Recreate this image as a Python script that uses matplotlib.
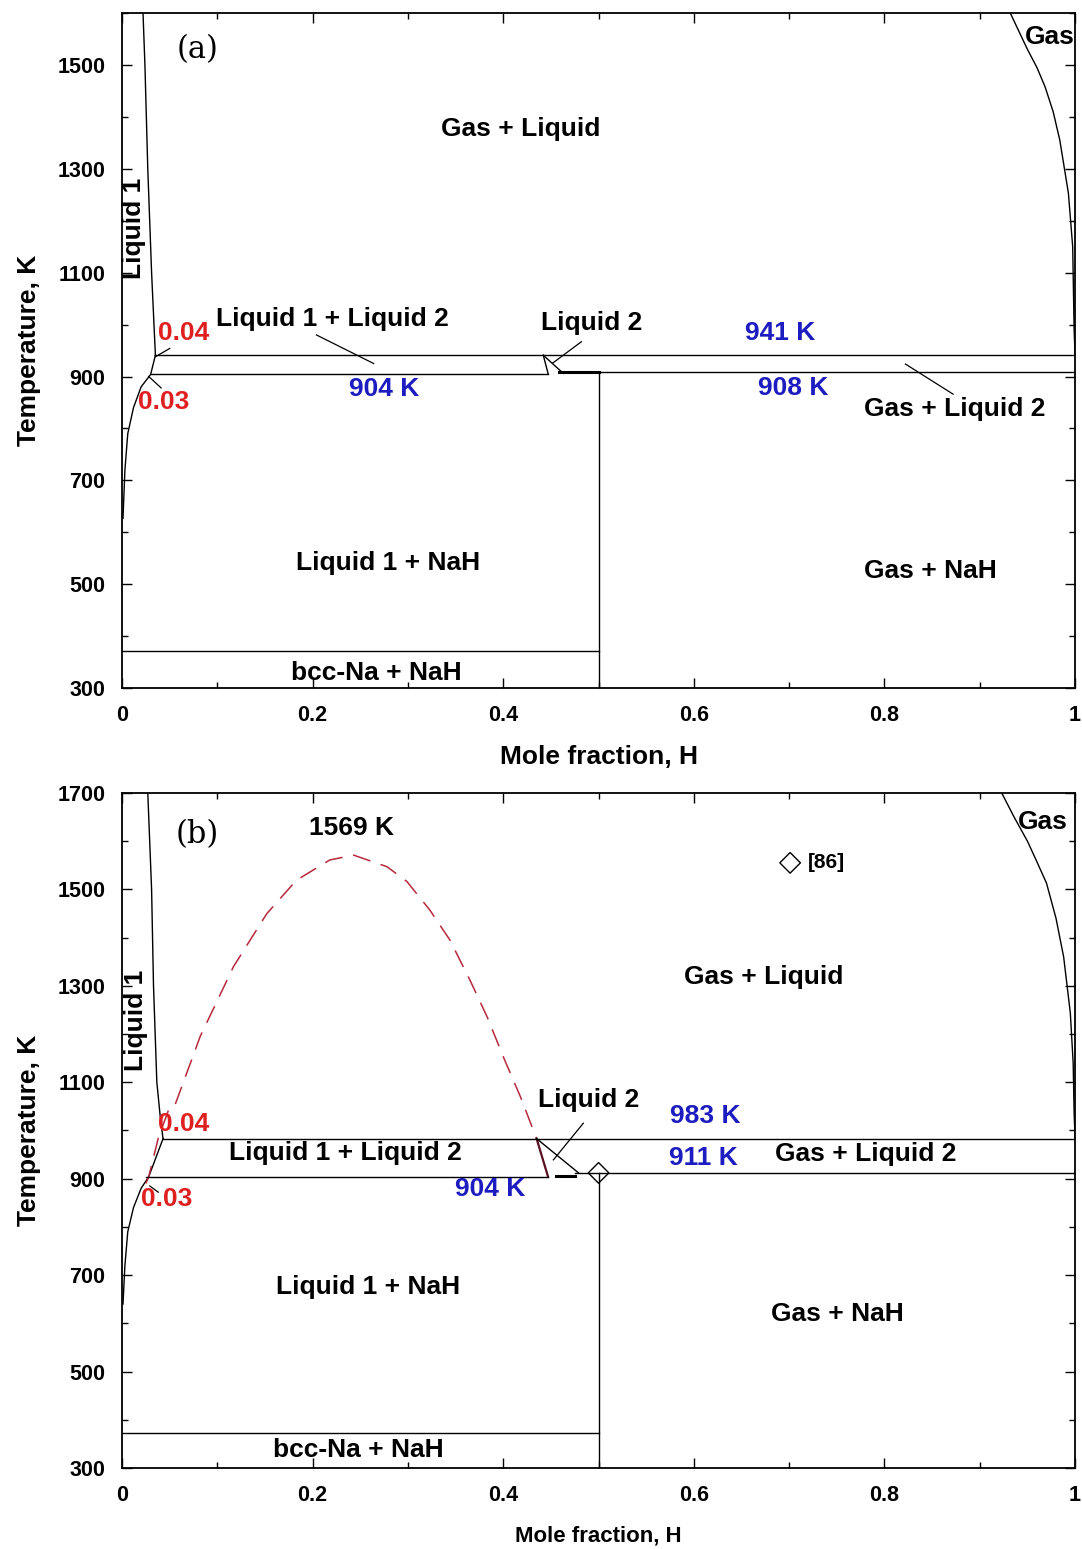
import numpy as np
import matplotlib.pyplot as plt
from matplotlib.ticker import MultipleLocator

# ---- panel (a) data ----
liq1_top_a_x = [0.022, 0.024, 0.027, 0.031, 0.035]
liq1_top_a_T = [1600, 1500, 1300, 1100, 941]
liq1_low_a_x = [0.035, 0.030, 0.020, 0.012, 0.006, 0.003, 0.001]
liq1_low_a_T = [941, 904, 880, 840, 790, 720, 627]
gas_a_x = [0.932, 0.941, 0.950, 0.960, 0.9685, 0.977, 0.984, 0.993, 0.9975, 0.999, 1.0]
gas_a_T = [1600, 1565, 1530, 1495, 1458, 1410, 1355, 1253, 1150, 990, 941]
T_mono_a = 941
T_eut_a = 904
T_per_a = 908
T_bcc = 372

# ---- panel (b) data ----
liq1_top_b_x = [0.027, 0.029, 0.031, 0.033, 0.0365, 0.040, 0.043]
liq1_top_b_T = [1700, 1600, 1500, 1300, 1100, 1030, 983]
liq1_low_b_x = [0.043, 0.028, 0.020, 0.012, 0.006, 0.003, 0.001]
liq1_low_b_T = [983, 904, 880, 840, 790, 720, 640]
gap_x = [0.025, 0.028, 0.038, 0.050, 0.0556, 0.082, 0.117, 0.152, 0.183, 0.218,
         0.243, 0.278, 0.299, 0.323, 0.344, 0.365, 0.383, 0.400, 0.418, 0.435]
gap_T = [890, 904, 984, 1049, 1053, 1195, 1340, 1450, 1519, 1561,
         1571, 1547, 1516, 1457, 1395, 1312, 1236, 1153, 1070, 983]
gas_b_x = [0.923, 0.936, 0.950, 0.960, 0.970, 0.980, 0.988, 0.995, 0.998, 0.999, 1.0]
gas_b_T = [1700, 1650, 1600, 1557, 1513, 1440, 1360, 1244, 1140, 1036, 983]
T_mono_b = 983
T_eut_b = 904
T_per_b = 911
exp_x = [0.701, 0.5]
exp_T = [1555, 912]

blue = '#1c1cc0'
red = '#e02020'
gap_color = '#b8283c'
lw = 1.0

plt.rcParams['font.family'] = ['Liberation Sans', 'DejaVu Sans']
plt.rcParams['font.weight'] = 'bold'

fig = plt.figure(figsize=(10.82, 15.49), dpi=100)
ax1 = fig.add_axes([0.1128, 0.5558, 0.8808, 0.4358])
ax2 = fig.add_axes([0.1128, 0.0523, 0.8808, 0.4358])


def style_axes(ax, ymax, xlabel_size):
    ax.set_xlim(0, 1)
    ax.set_ylim(300, ymax)
    ax.xaxis.set_minor_locator(MultipleLocator(0.1))
    ax.yaxis.set_minor_locator(MultipleLocator(100))
    ax.set_yticks(np.arange(300, ymax + 1, 200))
    ax.set_xticks([0, 0.2, 0.4, 0.6, 0.8, 1.0])
    ax.set_xticklabels(['0', '0.2', '0.4', '0.6', '0.8', '1'])
    ax.tick_params(which='both', direction='in', top=True, right=True,
                   labelsize=15.5, width=1)
    ax.tick_params(which='major', length=7, pad=12)
    ax.tick_params(which='minor', length=4)
    for lab in ax.get_xticklabels() + ax.get_yticklabels():
        lab.set_fontweight('bold')
    for s in ax.spines.values():
        s.set_linewidth(1.3)
    ax.set_ylabel('Temperature, K', fontsize=19, fontweight='bold', labelpad=12)
    ax.set_xlabel('Mole fraction, H', fontsize=xlabel_size, fontweight='bold', labelpad=14)


# ---------------- panel (a) ----------------
ax1.plot(liq1_top_a_x, liq1_top_a_T, 'k-', lw=lw)
ax1.plot(liq1_low_a_x, liq1_low_a_T, 'k-', lw=lw)
ax1.plot(gas_a_x, gas_a_T, 'k-', lw=lw)
ax1.plot([0.035, 1.0], [T_mono_a, T_mono_a], 'k-', lw=lw)
ax1.plot([0.030, 0.447], [T_eut_a, T_eut_a], 'k-', lw=lw)
ax1.plot([0.458, 0.5], [T_per_a, T_per_a], 'k-', lw=2.2)
ax1.plot([0.5, 1.0], [T_per_a, T_per_a], 'k-', lw=lw)
ax1.plot([0.5, 0.5], [300, T_per_a], 'k-', lw=lw)
ax1.plot([0, 0.5], [T_bcc, T_bcc], 'k-', lw=lw)
ax1.plot([0.442, 0.447], [941, 906], 'k-', lw=lw)
ax1.plot([0.442, 0.463], [941, 906], 'k-', lw=lw)
# leader lines
ax1.plot([0.204, 0.264], [980, 925], 'k-', lw=0.9)
ax1.plot([0.482, 0.452], [967, 926], 'k-', lw=0.9)
ax1.plot([0.822, 0.872], [924, 866], 'k-', lw=0.9)
ax1.plot([0.035, 0.050], [938, 954], 'k-', lw=0.9)
ax1.plot([0.028, 0.041], [900, 878], 'k-', lw=0.9)

fs = 19
ax1.text(0.079, 1529, '(a)', fontsize=22, family='DejaVu Serif', fontweight='normal',
         ha='center', va='center')
ax1.text(0.418, 1377, 'Gas + Liquid', fontsize=fs, ha='center', va='center')
ax1.text(0.0125, 1186, 'Liquid 1', fontsize=fs, rotation=90, ha='center', va='center')
ax1.text(0.221, 1011, 'Liquid 1 + Liquid 2', fontsize=fs, ha='center', va='center')
ax1.text(0.493, 1003, 'Liquid 2', fontsize=fs, ha='center', va='center')
ax1.text(0.690, 984, '941 K', fontsize=fs, color=blue, ha='center', va='center')
ax1.text(0.065, 984, '0.04', fontsize=fs, color=red, ha='center', va='center')
ax1.text(0.044, 851, '0.03', fontsize=fs, color=red, ha='center', va='center')
ax1.text(0.275, 876, '904 K', fontsize=fs, color=blue, ha='center', va='center')
ax1.text(0.704, 878, '908 K', fontsize=fs, color=blue, ha='center', va='center')
ax1.text(0.874, 837, 'Gas + Liquid 2', fontsize=fs, ha='center', va='center')
ax1.text(0.279, 541, 'Liquid 1 + NaH', fontsize=fs, ha='center', va='center')
ax1.text(0.848, 525, 'Gas + NaH', fontsize=fs, ha='center', va='center')
ax1.text(0.2665, 329, 'bcc-Na + NaH', fontsize=fs, ha='center', va='center')
ax1.text(0.974, 1554, 'Gas', fontsize=fs, ha='center', va='center')
style_axes(ax1, 1600, 19)

# ---------------- panel (b) ----------------
ax2.plot(liq1_top_b_x, liq1_top_b_T, 'k-', lw=lw)
ax2.plot(liq1_low_b_x, liq1_low_b_T, 'k-', lw=lw)
ax2.plot(gas_b_x, gas_b_T, 'k-', lw=lw)
ax2.plot(gap_x, gap_T, color=gap_color, ls=(0, (12, 7)), lw=1.1)
ax2.plot([0.435, 0.447], [983, 904], color='#5a1020', lw=1.6)
ax2.plot([0.043, 1.0], [T_mono_b, T_mono_b], 'k-', lw=lw)
ax2.plot([0.025, 0.447], [T_eut_b, T_eut_b], 'k-', lw=lw)
ax2.plot([0.455, 0.475], [906, 906], 'k-', lw=2.2)
ax2.plot([0.475, 1.0], [T_per_b, T_per_b], 'k-', lw=lw)
ax2.plot([0.5, 0.5], [300, T_per_b], 'k-', lw=lw)
ax2.plot([0, 0.5], [T_bcc, T_bcc], 'k-', lw=lw)
ax2.plot([0.435, 0.479], [983, 912], 'k-', lw=lw)
# leader lines
ax2.plot([0.484, 0.4526], [1015, 939], 'k-', lw=0.9)
ax2.plot([0.029, 0.038], [885, 872], 'k-', lw=0.9)
ax2.scatter(exp_x, exp_T, marker='D', s=110, facecolors='none',
            edgecolors='k', linewidths=1.0, zorder=5)

ax2.text(0.079, 1613, '(b)', fontsize=22, family='DejaVu Serif', fontweight='normal',
         ha='center', va='center')
ax2.text(0.241, 1627, '1569 K', fontsize=fs, ha='center', va='center')
ax2.text(0.739, 1555, '[86]', fontsize=15, ha='center', va='center')
ax2.text(0.966, 1640, 'Gas', fontsize=fs, ha='center', va='center')
ax2.text(0.673, 1318, 'Gas + Liquid', fontsize=fs, ha='center', va='center')
ax2.text(0.0145, 1229, 'Liquid 1', fontsize=fs, rotation=90, ha='center', va='center')
ax2.text(0.490, 1063, 'Liquid 2', fontsize=fs, ha='center', va='center')
ax2.text(0.612, 1030, '983 K', fontsize=fs, color=blue, ha='center', va='center')
ax2.text(0.065, 1013, '0.04', fontsize=fs, color=red, ha='center', va='center')
ax2.text(0.234, 953, 'Liquid 1 + Liquid 2', fontsize=fs, ha='center', va='center')
ax2.text(0.610, 943, '911 K', fontsize=fs, color=blue, ha='center', va='center')
ax2.text(0.780, 951, 'Gas + Liquid 2', fontsize=fs, ha='center', va='center')
ax2.text(0.386, 879, '904 K', fontsize=fs, color=blue, ha='center', va='center')
ax2.text(0.047, 858, '0.03', fontsize=fs, color=red, ha='center', va='center')
ax2.text(0.258, 675, 'Liquid 1 + NaH', fontsize=fs, ha='center', va='center')
ax2.text(0.751, 619, 'Gas + NaH', fontsize=fs, ha='center', va='center')
ax2.text(0.248, 337, 'bcc-Na + NaH', fontsize=fs, ha='center', va='center')
style_axes(ax2, 1700, 16)

fig.savefig('out.png', dpi=100)
